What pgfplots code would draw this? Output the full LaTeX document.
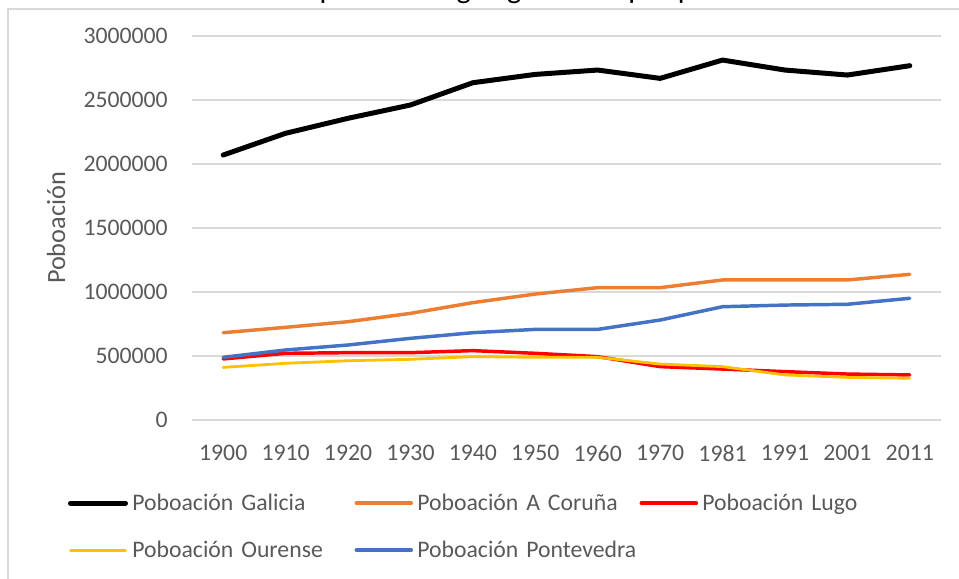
\documentclass[border=0pt]{standalone}
\usepackage{fontspec}
\setmainfont{Carlito}
\usepackage{pgfplots}
\pgfplotsset{compat=1.18}
\definecolor{cgal}{HTML}{000000}
\definecolor{ccor}{HTML}{ED7D31}
\definecolor{clug}{HTML}{FF0000}
\definecolor{cour}{HTML}{FFC000}
\definecolor{cpon}{HTML}{4472C4}
\definecolor{txt}{HTML}{595959}
\definecolor{grd}{HTML}{D9D9D9}
\begin{document}
\begin{tikzpicture}
\useasboundingbox (0,0) rectangle (719.25pt,433.5pt);
\clip (0,0) rectangle (719.25pt,433.5pt);
\node[anchor=base, inner sep=0pt, font=\fontsize{22.8}{27}\selectfont, text=black] at (360pt,434.6pt) {Evolución da poboación galega total e por provincias};
\draw[grd, line width=1.5pt] (6pt,-10pt) -- (6pt,426.75pt) -- (730pt,426.75pt);
\begin{axis}[
  at={(144pt,118.5pt)}, anchor=south west,
  width=561.75pt, height=288pt, scale only axis,
  xmin=-0.5, xmax=11.5, ymin=0, ymax=3000000,
  xtick={0,1,2,3,4,5,6,7,8,9,10,11},
  xticklabels={1900,1910,1920,1930,1940,1950,1960,1970,1981,1991,2001,2011},
  ytick={0,500000,1000000,1500000,2000000,2500000,3000000},
  yticklabels={0,500000,1000000,1500000,2000000,2500000,3000000},
  scaled y ticks=false,
  axis line style={draw=none},
  major tick length=0pt,
  tick style={draw=none},
  ymajorgrids,
  grid style={grd, line width=1.2pt},
  tick label style={font=\fontsize{17.8}{21}\selectfont, text=txt},
  xticklabel style={anchor=north, inner sep=0pt, yshift=-18.75pt},
  yticklabel style={anchor=east, inner sep=0pt, xshift=-18pt},
  ylabel={Poboación},
  ylabel style={at={(axis description cs:-0.1815,0.5)}, anchor=center, font=\fontsize{19.7}{23}\selectfont, text=txt},
  legend columns=3,
  legend image code/.code={\draw[#1, line cap=round] (0pt,5.6pt) -- (41.25pt,5.6pt);\path (0pt,5.6pt) (44.5pt,5.6pt);},
  legend style={at={(axis description cs:-0.16555,-0.18906)}, anchor=north west, draw=none, fill=none, inner sep=0pt, outer sep=0pt, column sep=0pt, row sep=17.75pt, font=\fontsize{17.8}{21}\selectfont, text=txt,
    nodes={text width=166.65pt, text height=13.5pt, text depth=4pt, inner sep=0pt, align=left, anchor=base west}},
  line join=round,
]
\addplot[cgal, line width=3.75pt, line cap=round] coordinates {(0,2070000) (1,2240000) (2,2357000) (3,2461000) (4,2635000) (5,2700000) (6,2734000) (7,2669000) (8,2812000) (9,2734000) (10,2695000) (11,2768000)};
\addlegendentry{Poboación Galicia}
\addplot[ccor, line width=2.6pt, line cap=round] coordinates {(0,682000) (1,724000) (2,768000) (3,833000) (4,917000) (5,984000) (6,1034000) (7,1034000) (8,1094000) (9,1094000) (10,1094000) (11,1138000)};
\addlegendentry{Poboación A Coruña}
\addplot[clug, line width=2.6pt, line cap=round] coordinates {(0,477000) (1,521000) (2,526000) (3,526000) (4,542000) (5,521000) (6,495000) (7,417000) (8,398000) (9,378000) (10,359000) (11,352000)};
\addlegendentry{Poboación Lugo}
\addplot[cour, line width=2.1pt, line cap=round] coordinates {(0,411000) (1,443000) (2,463000) (3,474000) (4,495000) (5,490000) (6,490000) (7,437000) (8,417000) (9,352000) (10,333000) (11,326000)};
\addlegendentry{Poboación Ourense}
\addplot[cpon, line width=2.6pt, line cap=round] coordinates {(0,490000) (1,547000) (2,586000) (3,638000) (4,682000) (5,708000) (6,708000) (7,781000) (8,885000) (9,898000) (10,904000) (11,951000)};
\addlegendentry{Poboación Pontevedra}
\end{axis}
\end{tikzpicture}
\end{document}
